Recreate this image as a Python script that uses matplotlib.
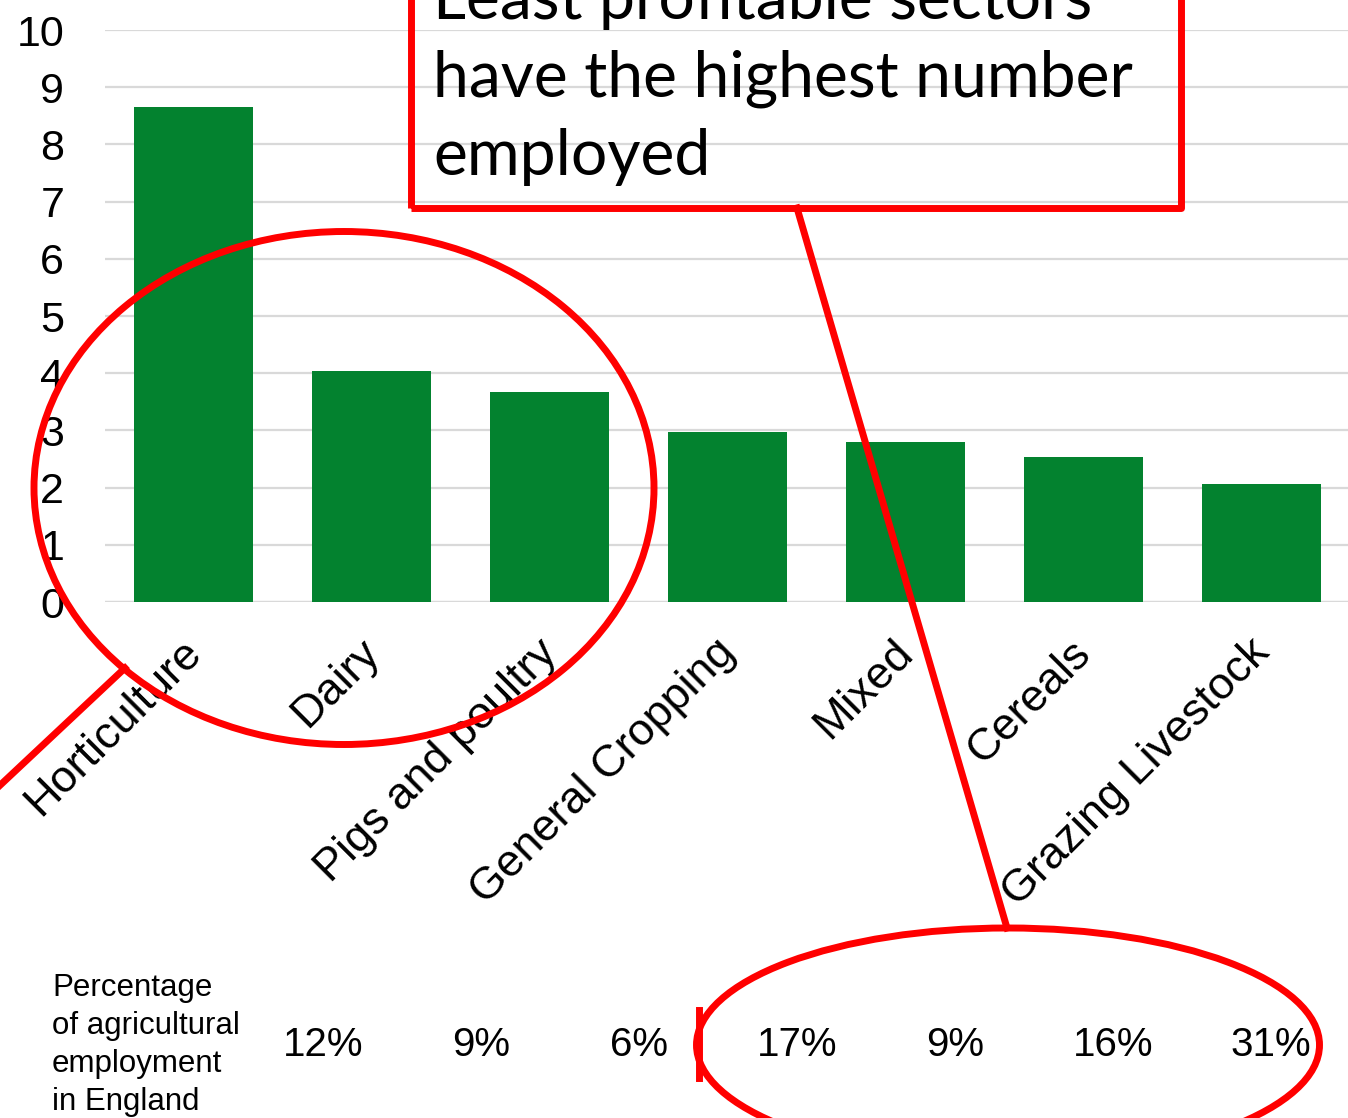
"""Employment by farm type, with the red call-out annotations."""
import matplotlib
matplotlib.use("Agg")
import matplotlib.pyplot as plt
from matplotlib.patches import Ellipse, Rectangle
from matplotlib.lines import Line2D

# data
sectors = ["Horticulture", "Dairy", "Pigs and poultry", "General Cropping",
           "Mixed", "Cereals", "Grazing Livestock"]
employed = [8.65, 4.04, 3.67, 2.97, 2.80, 2.53, 2.06]
pct_employment = [12, 9, 6, 17, 9, 16, 31]
yticks = list(range(0, 11))
callout_text = "Least profitable sectors\nhave the highest number\nemployed"
row_label = "Percentage\nof agricultural\nemployment\nin England"

GREEN = "#03822F"
RED = "#FF0000"
W, H = 1348, 1118

plt.rcParams["font.family"] = ["Liberation Sans", "DejaVu Sans"]

fig = plt.figure(figsize=(W / 100, H / 100), dpi=100)
ax = fig.add_axes([104.5 / W, 1 - 602 / H, 1246 / W, 572 / H])

x = range(len(sectors))
ax.bar(x, employed, width=0.67, color=GREEN, zorder=2)
ax.set_xlim(-0.5, len(sectors) - 0.5)
ax.set_ylim(0, 10)
ax.set_yticks(yticks)
ax.yaxis.grid(True, color="#D9D9D9", linewidth=1.6, zorder=0)
ax.set_axisbelow(True)
for s in ax.spines.values():
    s.set_visible(False)
ax.tick_params(axis="y", length=0, labelsize=31, pad=29)
ax.tick_params(axis="x", length=0)
ax.set_xticks(list(x))
ax.set_xticklabels([])
ax.axhline(0, color="#D9D9D9", linewidth=1.6, zorder=1)

# rotated category labels, ending just under each bar centre
for i, name in enumerate(sectors):
    ax.annotate(name, xy=(i, 0), xycoords="data", xytext=(1, -32),
                textcoords="offset points", rotation=45, rotation_mode="anchor",
                ha="right", va="center", fontsize=32.5, annotation_clip=False)


def px(xp, yp):
    """reference pixel (top-left origin) -> figure fraction"""
    return xp / W, 1 - yp / H


# percentage row under the chart
fig.text(*px(52, 1045), row_label, fontsize=22.5,
         ha="left", va="center", linespacing=1.34)
for i, p in enumerate(pct_employment):
    fig.text(*px(323 + 158 * i, 1045), f"{p}%",
             fontsize=29, ha="center", va="center")

# call-out box
bx0, by0 = px(411, -40)
bx1, by1 = px(1181, 208)
fig.patches.append(Rectangle((bx0, by1), bx1 - bx0, by0 - by1, transform=fig.transFigure,
                             fill=False, edgecolor=RED, linewidth=5, joinstyle="round"))
fig.text(*px(433, 175), callout_text, family=["Lato", "DejaVu Sans"], fontsize=46.3,
         ha="left", va="baseline", linespacing=1.42)

# ellipses
for cx, cy, ew, eh in [(344, 488, 620, 513), (1008, 1045, 623, 234)]:
    fx, fy = px(cx, cy)
    fig.patches.append(Ellipse((fx, fy), ew / W, eh / H, transform=fig.transFigure,
                               fill=False, edgecolor=RED, linewidth=5))

# connector lines
for (x0, y0), (x1, y1) in [((797, 208), (1007, 928)), ((-5, 790), (125, 668)),
                           ((699, 1010), (699, 1078))]:
    a, b = px(x0, y0)
    c, d = px(x1, y1)
    fig.lines.append(Line2D([a, c], [b, d], transform=fig.transFigure,
                            color=RED, linewidth=5))

fig.savefig("out.png", dpi=100)
